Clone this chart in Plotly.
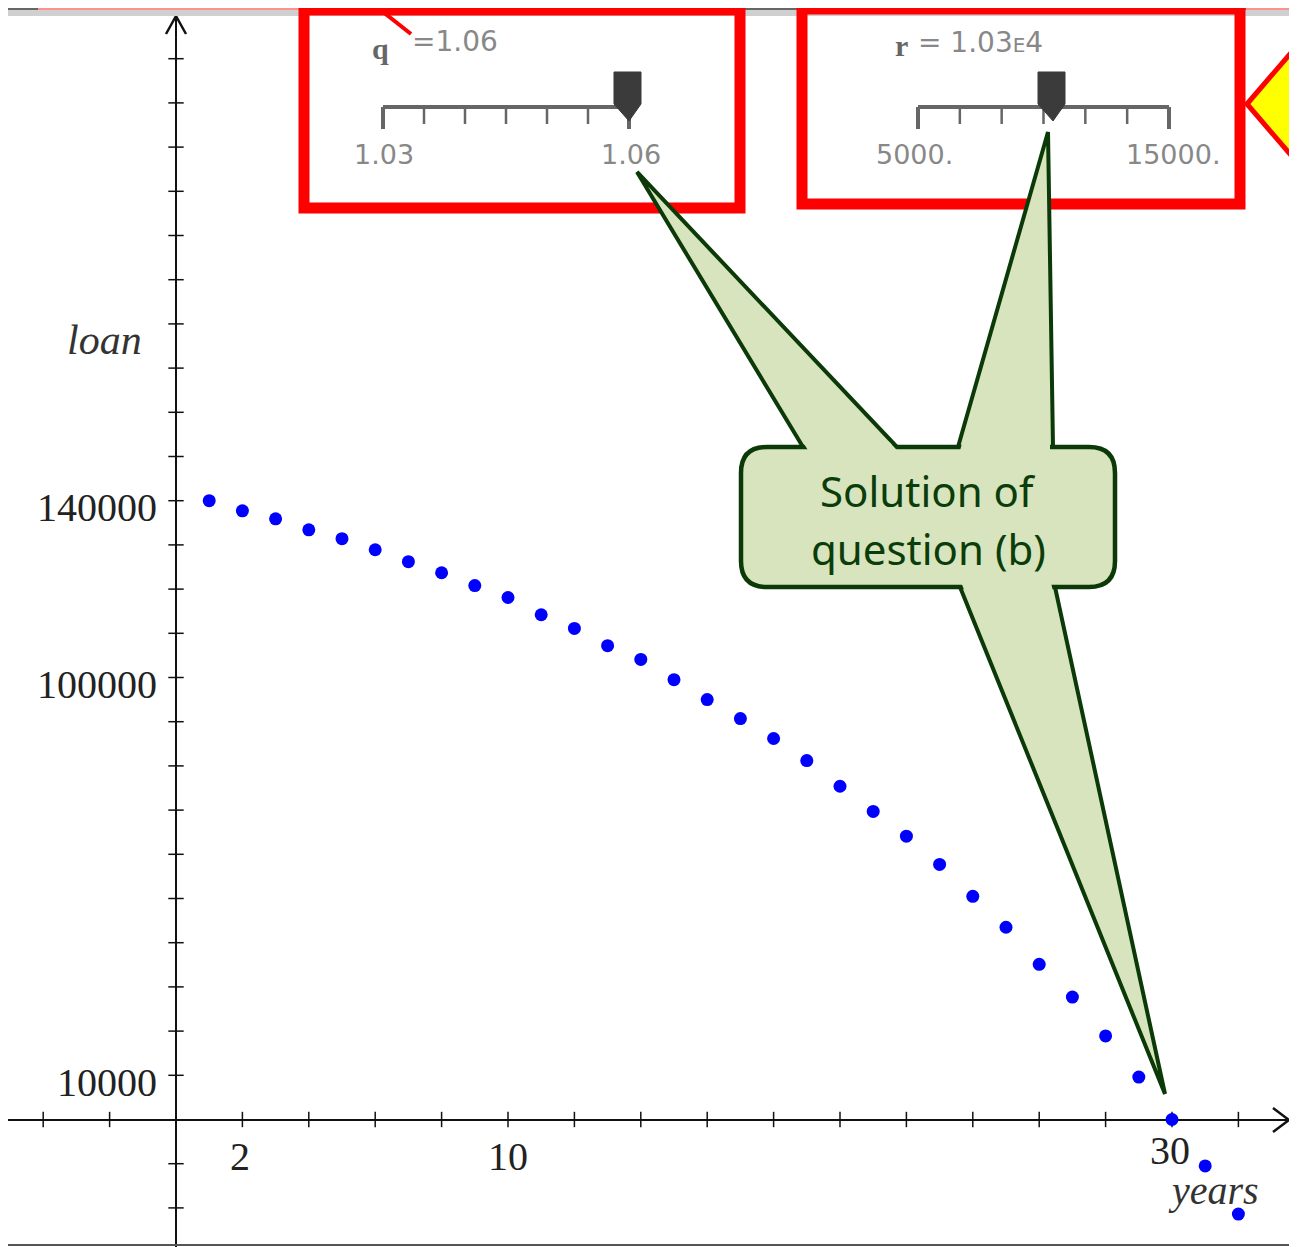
import plotly.graph_objects as go

# ---------------- data ----------------
years = list(range(1, 33))
loan = [140000, 137700, 135900, 133400, 131400, 128900, 126200, 123700,
        120800, 118100, 114200, 111100, 107200, 104100, 99500, 95000,
        90700, 86200, 81200, 75400, 69700, 64100, 57700, 50500,
        43500, 35100, 27700, 18900, 9600, 0, -10500, -21400]

x_label_vals = [2, 10, 30]
y_label_vals = [10000, 100000, 140000]
x_tick_vals = [v for v in range(-4, 34, 2) if v != 0]
y_tick_vals = [v * 10000 for v in range(-2, 26) if v != 0]

q_value_text = "=1.06"
q_min_text, q_max_text = "1.03", "1.06"
r_min_text, r_max_text = "5000.", "15000."

# ---------------- geometry helpers (reference pixel -> paper) ----------------
OFF = 8                      # page body margin
W, H = 1297 - OFF, 1247 - OFF
X0PX, YUNIT = 176 - OFF, 33.2
Y0PX, YSCALE = 1119.5 - OFF, 0.00442
X_RANGE = [-X0PX / YUNIT, (W - X0PX) / YUNIT]
Y_RANGE = [-(H - Y0PX) / YSCALE, Y0PX / YSCALE]


def px(x):
    return (x - OFF) / W


def py(y):
    return 1 - (y - OFF) / H


def path(points, close=True):
    s = "M " + " L ".join(f"{px(x):.5f},{py(y):.5f}" for x, y in points)
    return s + (" Z" if close else "")


def rounded_rect(x0, y0, x1, y1, r):
    def p(x, y):
        return f"{px(x):.5f},{py(y):.5f}"
    return (f"M {p(x0 + r, y0)} L {p(x1 - r, y0)} Q {p(x1, y0)} {p(x1, y0 + r)} "
            f"L {p(x1, y1 - r)} Q {p(x1, y1)} {p(x1 - r, y1)} "
            f"L {p(x0 + r, y1)} Q {p(x0, y1)} {p(x0, y1 - r)} "
            f"L {p(x0, y0 + r)} Q {p(x0, y0)} {p(x0 + r, y0)} Z")


shapes = []
annotations = []


def add_path(points, fill=None, line_color=None, width=0, close=True):
    shapes.append(dict(type="path", xref="paper", yref="paper",
                       path=path(points, close),
                       fillcolor=fill if fill else "rgba(0,0,0,0)",
                       line=dict(color=line_color if line_color else "rgba(0,0,0,0)", width=width)))


def add_line(x0, y0, x1, y1, color, width):
    shapes.append(dict(type="line", xref="paper", yref="paper",
                       x0=px(x0), y0=py(y0), x1=px(x1), y1=py(y1),
                       line=dict(color=color, width=width)))


def add_text(x, y, text, size, color, family, xanchor="center", yanchor="middle"):
    annotations.append(dict(xref="paper", yref="paper", x=px(x), y=py(y), text=text,
                            showarrow=False, xanchor=xanchor, yanchor=yanchor,
                            font=dict(size=size, color=color, family=family)))


# ---------------- figure ----------------
fig = go.Figure()
fig.add_trace(go.Scatter(x=x_tick_vals, y=[0] * len(x_tick_vals), mode="markers",
                         marker=dict(symbol="line-ns", size=11, color="#111",
                                     line=dict(width=1.5, color="#111")),
                         hoverinfo="skip", showlegend=False))
fig.add_trace(go.Scatter(x=[0] * len(y_tick_vals), y=y_tick_vals, mode="markers",
                         marker=dict(symbol="line-ew", size=11, color="#111",
                                     line=dict(width=1.5, color="#111")),
                         hoverinfo="skip", showlegend=False))
fig.add_trace(go.Scatter(x=years, y=loan, mode="markers",
                         marker=dict(color="#0000FF", size=13),
                         name="loan", showlegend=False))

# tick labels through data coordinates
for v in x_label_vals:
    annotations.append(dict(x=v, y=0, xref="x", yref="y", text=str(v), showarrow=False,
                            xanchor="center", yanchor="middle",
                            yshift=-37 if v < 30 else -31, xshift=-2 if v != 10 else 0,
                            font=dict(size=40, color="#222", family="Liberation Serif")))
for v in y_label_vals:
    annotations.append(dict(x=0, y=v, xref="x", yref="y", text=str(v), showarrow=False,
                            xanchor="right", yanchor="middle", xshift=-17, yshift=-7,
                            font=dict(size=40, color="#222", family="Liberation Serif")))

# axis names
add_text(105, 340, "<i>loan</i>", 42, "#333", "Liberation Serif")
add_text(1213, 1190, "<i>years</i>", 40, "#333", "Liberation Serif")

# axis arrowheads
add_path([(166, 34), (176, 16), (186, 34)], line_color="#111", width=2.5, close=False)
add_path([(1273, 1108), (1289, 1120), (1273, 1132)], line_color="#111", width=2.5, close=False)

# screen frame
shapes.append(dict(type="rect", xref="paper", yref="paper", x0=0, x1=1, y0=py(12), y1=1,
                   fillcolor="white", line=dict(width=0)))
shapes.append(dict(type="rect", xref="paper", yref="paper", x0=0, x1=1, y0=py(16), y1=py(10),
                   fillcolor="#d0d0d0", line=dict(width=0)))
add_line(0, 9, 1297, 9, "#333", 1.5)
add_line(8, 1245, 1297, 1245, "#555", 2)
add_line(38, 9, 300, 9, "#ff9090", 2)
add_line(1246, 9, 1297, 9, "#ff9090", 2)
add_line(378, 8, 411, 34, "#ff0000", 4)

# yellow arrow on right edge
add_path([(1247, 104), (1302, 40), (1302, 168)], fill="#ffff00", line_color="#ff0000", width=5)

# ---------------- sliders ----------------
SL = "#666666"


def slider(x0, x1, thumb_x):
    ty = 107
    add_line(x0, ty, x1, ty, SL, 4)
    n = 6
    for i in range(n + 1):
        xx = x0 + (x1 - x0) * i / n
        end = i in (0, n)
        add_line(xx, ty, xx, 129 if end else 124, SL, 4 if end else 2.5)
    add_path([(thumb_x - 14, 72), (thumb_x + 13, 72), (thumb_x + 13, 104),
              (thumb_x + 1, 121), (thumb_x - 14, 104)], fill="#3b3b3b", line_color="#3b3b3b", width=1)


slider(383, 629, 628)
slider(918, 1169, 1052)

add_text(380, 48, "<b>q</b>", 30, "#666", "Liberation Serif")
add_text(410, 42, q_value_text, 28, "#888", "DejaVu Sans", xanchor="left")
add_text(384, 154, q_min_text, 27, "#888", "DejaVu Sans")
add_text(631, 154, q_max_text, 27, "#888", "DejaVu Sans")

add_text(901, 46, "<b>r</b>", 30, "#666", "Liberation Serif")
add_text(916, 43, "= 1.03<span style='font-size:20px'>E</span>4", 28, "#888", "DejaVu Sans", xanchor="left")
add_text(914, 154, r_min_text, 27, "#888", "DejaVu Sans")
add_text(1173, 154, r_max_text, 27, "#888", "DejaVu Sans")

# red frames
for (a, b, c, d) in [(304, 10, 740, 208), (802, 9, 1240, 204)]:
    shapes.append(dict(type="rect", xref="paper", yref="paper",
                       x0=px(a), x1=px(c), y0=py(d), y1=py(b),
                       line=dict(color="#ff0000", width=11)))

# ---------------- green callout ----------------
GF = "#d7e4bd"
GL = "#0b3a08"
pointers = [
    ((803, 447), (897, 447), (637, 172)),
    ((958, 447), (1053, 447), (1048, 132)),
    ((960, 587), (1055, 587), (1165, 1094)),
]
for a, b, t in pointers:
    add_path([a, t, b], fill=GF, line_color=GL, width=4)

shapes.append(dict(type="path", xref="paper", yref="paper",
                   path=rounded_rect(741, 447, 1115, 587, 26),
                   fillcolor=GF, line=dict(color=GL, width=4.5)))

# cover the box border where pointers join
for a, b, t in pointers:
    la = (t[0] - a[0], t[1] - a[1])
    L1 = (la[0] ** 2 + la[1] ** 2) ** 0.5
    lb = (t[0] - b[0], t[1] - b[1])
    L2 = (lb[0] ** 2 + lb[1] ** 2) ** 0.5
    s1, s2 = 8 / L1, 8 / L2
    a_out, a_in = (a[0] + la[0] * s1, a[1] + la[1] * s1), (a[0] - la[0] * s1, a[1] - la[1] * s1)
    b_out, b_in = (b[0] + lb[0] * s2, b[1] + lb[1] * s2), (b[0] - lb[0] * s2, b[1] - lb[1] * s2)
    sign = 1 if b[0] > a[0] else -1
    add_path([(a_in[0] + 3 * sign, a_in[1]), (a_out[0] + 3 * sign, a_out[1]),
              (b_out[0] - 3 * sign, b_out[1]), (b_in[0] - 3 * sign, b_in[1])], fill=GF)

add_text(928, 490, "Solution of", 42, "#0b3d0b", "Noto Sans")
add_text(928, 548, "question (b)", 42, "#0b3d0b", "Noto Sans")

fig.update_layout(
    width=W, height=H,
    margin=dict(l=0, r=0, t=0, b=0),
    paper_bgcolor="white", plot_bgcolor="white",
    xaxis=dict(range=X_RANGE, showgrid=False, zeroline=True, zerolinecolor="#111",
               zerolinewidth=2, showticklabels=False, ticks="", fixedrange=True),
    yaxis=dict(range=Y_RANGE, showgrid=False, zeroline=True, zerolinecolor="#111",
               zerolinewidth=2, showticklabels=False, ticks="", fixedrange=True),
    shapes=shapes,
    annotations=annotations,
    showlegend=False,
)

fig.write_html("out.html")
